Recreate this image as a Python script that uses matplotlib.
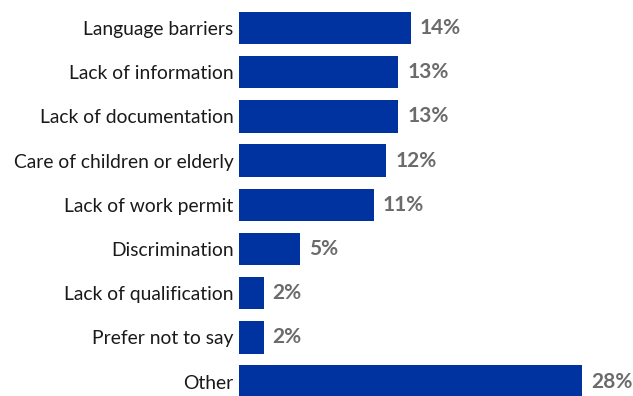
import matplotlib.pyplot as plt

categories = ["Language barriers", "Lack of information", "Lack of documentation",
              "Care of children or elderly", "Lack of work permit", "Discrimination",
              "Lack of qualification", "Prefer not to say", "Other"]
values = [14, 13, 13, 12, 11, 5, 2, 2, 28]

BAR_COLOR = "#0033a0"
LABEL_COLOR = "#6b6b6b"

plt.rcParams['font.family'] = ['Lato', 'DejaVu Sans']

fig = plt.figure(figsize=(6.33, 3.96), dpi=100)
ax = fig.add_axes([239 / 633, 0, 1 - 239 / 633, 1])

pos = list(range(len(categories)))
ax.barh(pos, values, height=0.73, color=BAR_COLOR)

for y, v in zip(pos, values):
    ax.text(v + 0.75, y, f"{v}%", va="center", ha="left",
            fontsize=15, fontweight="bold", color=LABEL_COLOR)

ax.set_yticks(pos)
ax.set_yticklabels(categories, fontsize=13.9, color="#1a1a1a")
ax.tick_params(axis="y", length=0, pad=4)
ax.set_xticks([])
ax.set_xlim(0, (633 - 239) / 12.25)
ax.set_ylim(8.326, -0.633)
for spine in ax.spines.values():
    spine.set_visible(False)

fig.savefig("out.png", dpi=100)
